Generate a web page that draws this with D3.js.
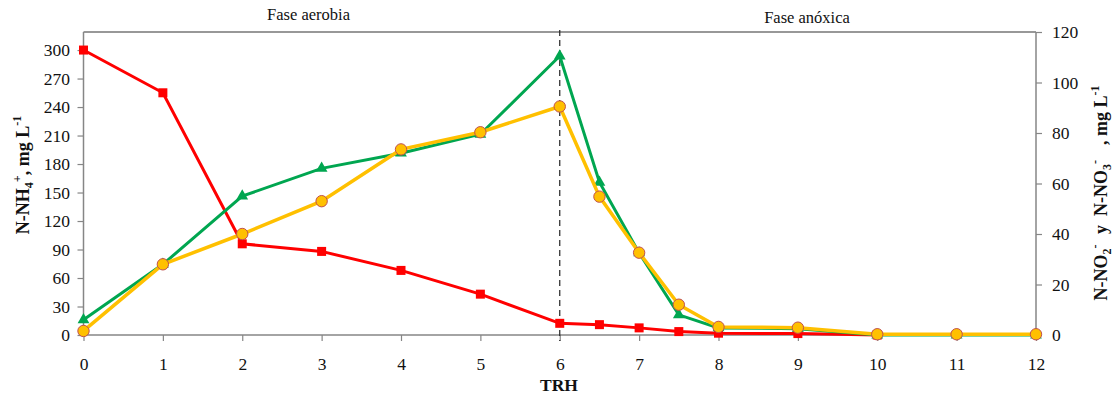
<!DOCTYPE html>
<html>
<head>
<meta charset="utf-8">
<script src="https://cdn.jsdelivr.net/npm/d3@7"></script>
<style>
  body { margin: 0; background: #fff; }
</style>
</head>
<body>
<svg id="chart" width="1116" height="399"></svg>
<script>
// ---- Data ----
const timeNH4 = [0, 1, 2, 3, 4, 5, 6, 6.5, 7, 7.5, 8, 9, 10];
const valuesNH4 = [300, 255, 96, 88, 68, 43, 12.3, 10.9, 7.5, 3.6, 1.9, 1.5, 0];
const timeNO = [0, 1, 2, 3, 4, 5, 6, 6.5, 7, 7.5, 8, 9, 10, 11, 12];
const valuesNO2 = [6, 28, 55, 66, 72, 79.5, 110.5, 60.5, 32.5, 8, 2.8, 2.5, 0, 0, 0];
const valuesNO3 = [1.6, 28, 40, 53, 73.5, 80.3, 90.5, 54.8, 32.6, 12, 3.2, 2.9, 0.3, 0.3, 0.3];
const xTicks = [0, 1, 2, 3, 4, 5, 6, 7, 8, 9, 10, 11, 12];
const leftTicks = [0, 30, 60, 90, 120, 150, 180, 210, 240, 270, 300];
const rightTicks = [0, 20, 40, 60, 80, 100, 120];
const phaseLabels = ["Fase aerobia", "Fase anóxica"];
const phaseSplit = 6;

// ---- Layout ----
const svg = d3.select("#chart");
const L = 83.5, R = 1036, T = 32, B = 335;
const x = d3.scaleLinear().domain([0, 12]).range([L, R]);
const yL = d3.scaleLinear().domain([0, 319]).range([B, T]);
const yR = d3.scaleLinear().domain([0, 120]).range([B, T]);

const axisColor = "#868686";
const serif = "Liberation Serif";

// top border
svg.append("line").attr("x1", L).attr("x2", R).attr("y1", T).attr("y2", T)
  .attr("stroke", "#333").attr("stroke-width", 1.2);

// axes
const gx = svg.append("g").attr("transform", `translate(0,${B})`)
  .call(d3.axisBottom(x).tickValues(xTicks).tickSize(6).tickPadding(17).tickFormat(d3.format("d")));
const gl = svg.append("g").attr("transform", `translate(${L},0)`)
  .call(d3.axisLeft(yL).tickValues(leftTicks).tickSize(6).tickPadding(7.5));
const gr = svg.append("g").attr("transform", `translate(${R},0)`)
  .call(d3.axisRight(yR).tickValues(rightTicks).tickSize(6).tickPadding(10));
[gx, gl, gr].forEach(g => {
  g.attr("font-family", serif).attr("font-size", 17.5);
  g.select(".domain").attr("stroke", axisColor).attr("stroke-width", 1.5);
  g.selectAll(".tick line").attr("stroke", axisColor).attr("stroke-width", 1.2);
  g.selectAll(".tick text").attr("fill", "#111");
});
gx.select(".domain").attr("d", `M${L},0H${R}`);
gl.select(".domain").attr("d", `M0,${B}V${T}`);
gr.select(".domain").attr("d", `M0,${B}V${T}`);

// dashed phase separator
svg.append("line").attr("x1", x(phaseSplit)).attr("x2", x(phaseSplit))
  .attr("y1", T - 2).attr("y2", B + 6)
  .attr("stroke", "#222").attr("stroke-width", 1.2).attr("stroke-dasharray", "6,4");

// phase labels
svg.append("text").attr("x", 308.5).attr("y", 20).attr("text-anchor", "middle")
  .attr("font-family", serif).attr("font-size", 16.5).attr("fill", "#111").text(phaseLabels[0]);
svg.append("text").attr("x", 807).attr("y", 23).attr("text-anchor", "middle")
  .attr("font-family", serif).attr("font-size", 16.5).attr("fill", "#111").text(phaseLabels[1]);

// series
const red = "#FF0000", green = "#00A650", yellow = "#FFC000";
const lineNH4 = d3.line().x((d, i) => x(timeNH4[i])).y(d => yL(d));
const lineNO = d3.line().x((d, i) => x(timeNO[i])).y(d => yR(d));

svg.append("path").datum(valuesNH4).attr("d", lineNH4)
  .attr("fill", "none").attr("stroke", red).attr("stroke-width", 3);
svg.append("g").selectAll("rect").data(valuesNH4).join("rect")
  .attr("x", (d, i) => x(timeNH4[i]) - 4.5).attr("y", d => yL(d) - 4.5)
  .attr("width", 9).attr("height", 9).attr("fill", red);

svg.append("path").datum(valuesNO2).attr("d", lineNO)
  .attr("fill", "none").attr("stroke", green).attr("stroke-width", 3);
const tri = d3.symbol().type(d3.symbolTriangle).size(60);
svg.append("g").selectAll("path").data(valuesNO2).join("path")
  .attr("d", tri)
  .attr("transform", (d, i) => `translate(${x(timeNO[i])},${yR(d)})`)
  .attr("fill", green);

svg.append("path").datum(valuesNO3).attr("d", lineNO)
  .attr("fill", "none").attr("stroke", yellow).attr("stroke-width", 3.5);
svg.append("g").selectAll("circle").data(valuesNO3).join("circle")
  .attr("cx", (d, i) => x(timeNO[i])).attr("cy", d => yR(d)).attr("r", 5.7)
  .attr("fill", yellow).attr("stroke", "#C0504D").attr("stroke-width", 1);

// axis titles
svg.append("text").attr("x", 559).attr("y", 391).attr("text-anchor", "middle")
  .attr("font-family", serif).attr("font-size", 17.5).attr("font-weight", "bold")
  .attr("fill", "#111").text("TRH");

const lt = svg.append("text").attr("transform", "translate(29,175) rotate(-90)")
  .attr("text-anchor", "middle").attr("font-family", serif)
  .attr("font-size", 18).attr("font-weight", "bold").attr("fill", "#111")
  .style("white-space", "pre");
lt.append("tspan").text("N-NH");
lt.append("tspan").attr("font-size", 12).attr("dy", 4).text("4");
lt.append("tspan").attr("font-size", 12).attr("dy", -12).text("+");
lt.append("tspan").attr("dy", 8).text(", mg L");
lt.append("tspan").attr("font-size", 12).attr("dy", -8).text("-1");

const rt = svg.append("text").attr("transform", "translate(1107,193) rotate(-90)")
  .attr("text-anchor", "middle").attr("font-family", serif)
  .attr("font-size", 18).attr("font-weight", "bold").attr("fill", "#111")
  .style("white-space", "pre");
rt.append("tspan").text("N-NO");
rt.append("tspan").attr("font-size", 12).attr("dy", 4).text("2");
rt.append("tspan").attr("font-size", 12).attr("dy", -12).text("-  ");
rt.append("tspan").attr("dy", 8).text(" y  N-NO");
rt.append("tspan").attr("font-size", 12).attr("dy", 4).text("3");
rt.append("tspan").attr("font-size", 12).attr("dy", -12).text("-  ");
rt.append("tspan").attr("dy", 8).text("  , mg L");
rt.append("tspan").attr("font-size", 12).attr("dy", -8).text("-1");
</script>
</body>
</html>
